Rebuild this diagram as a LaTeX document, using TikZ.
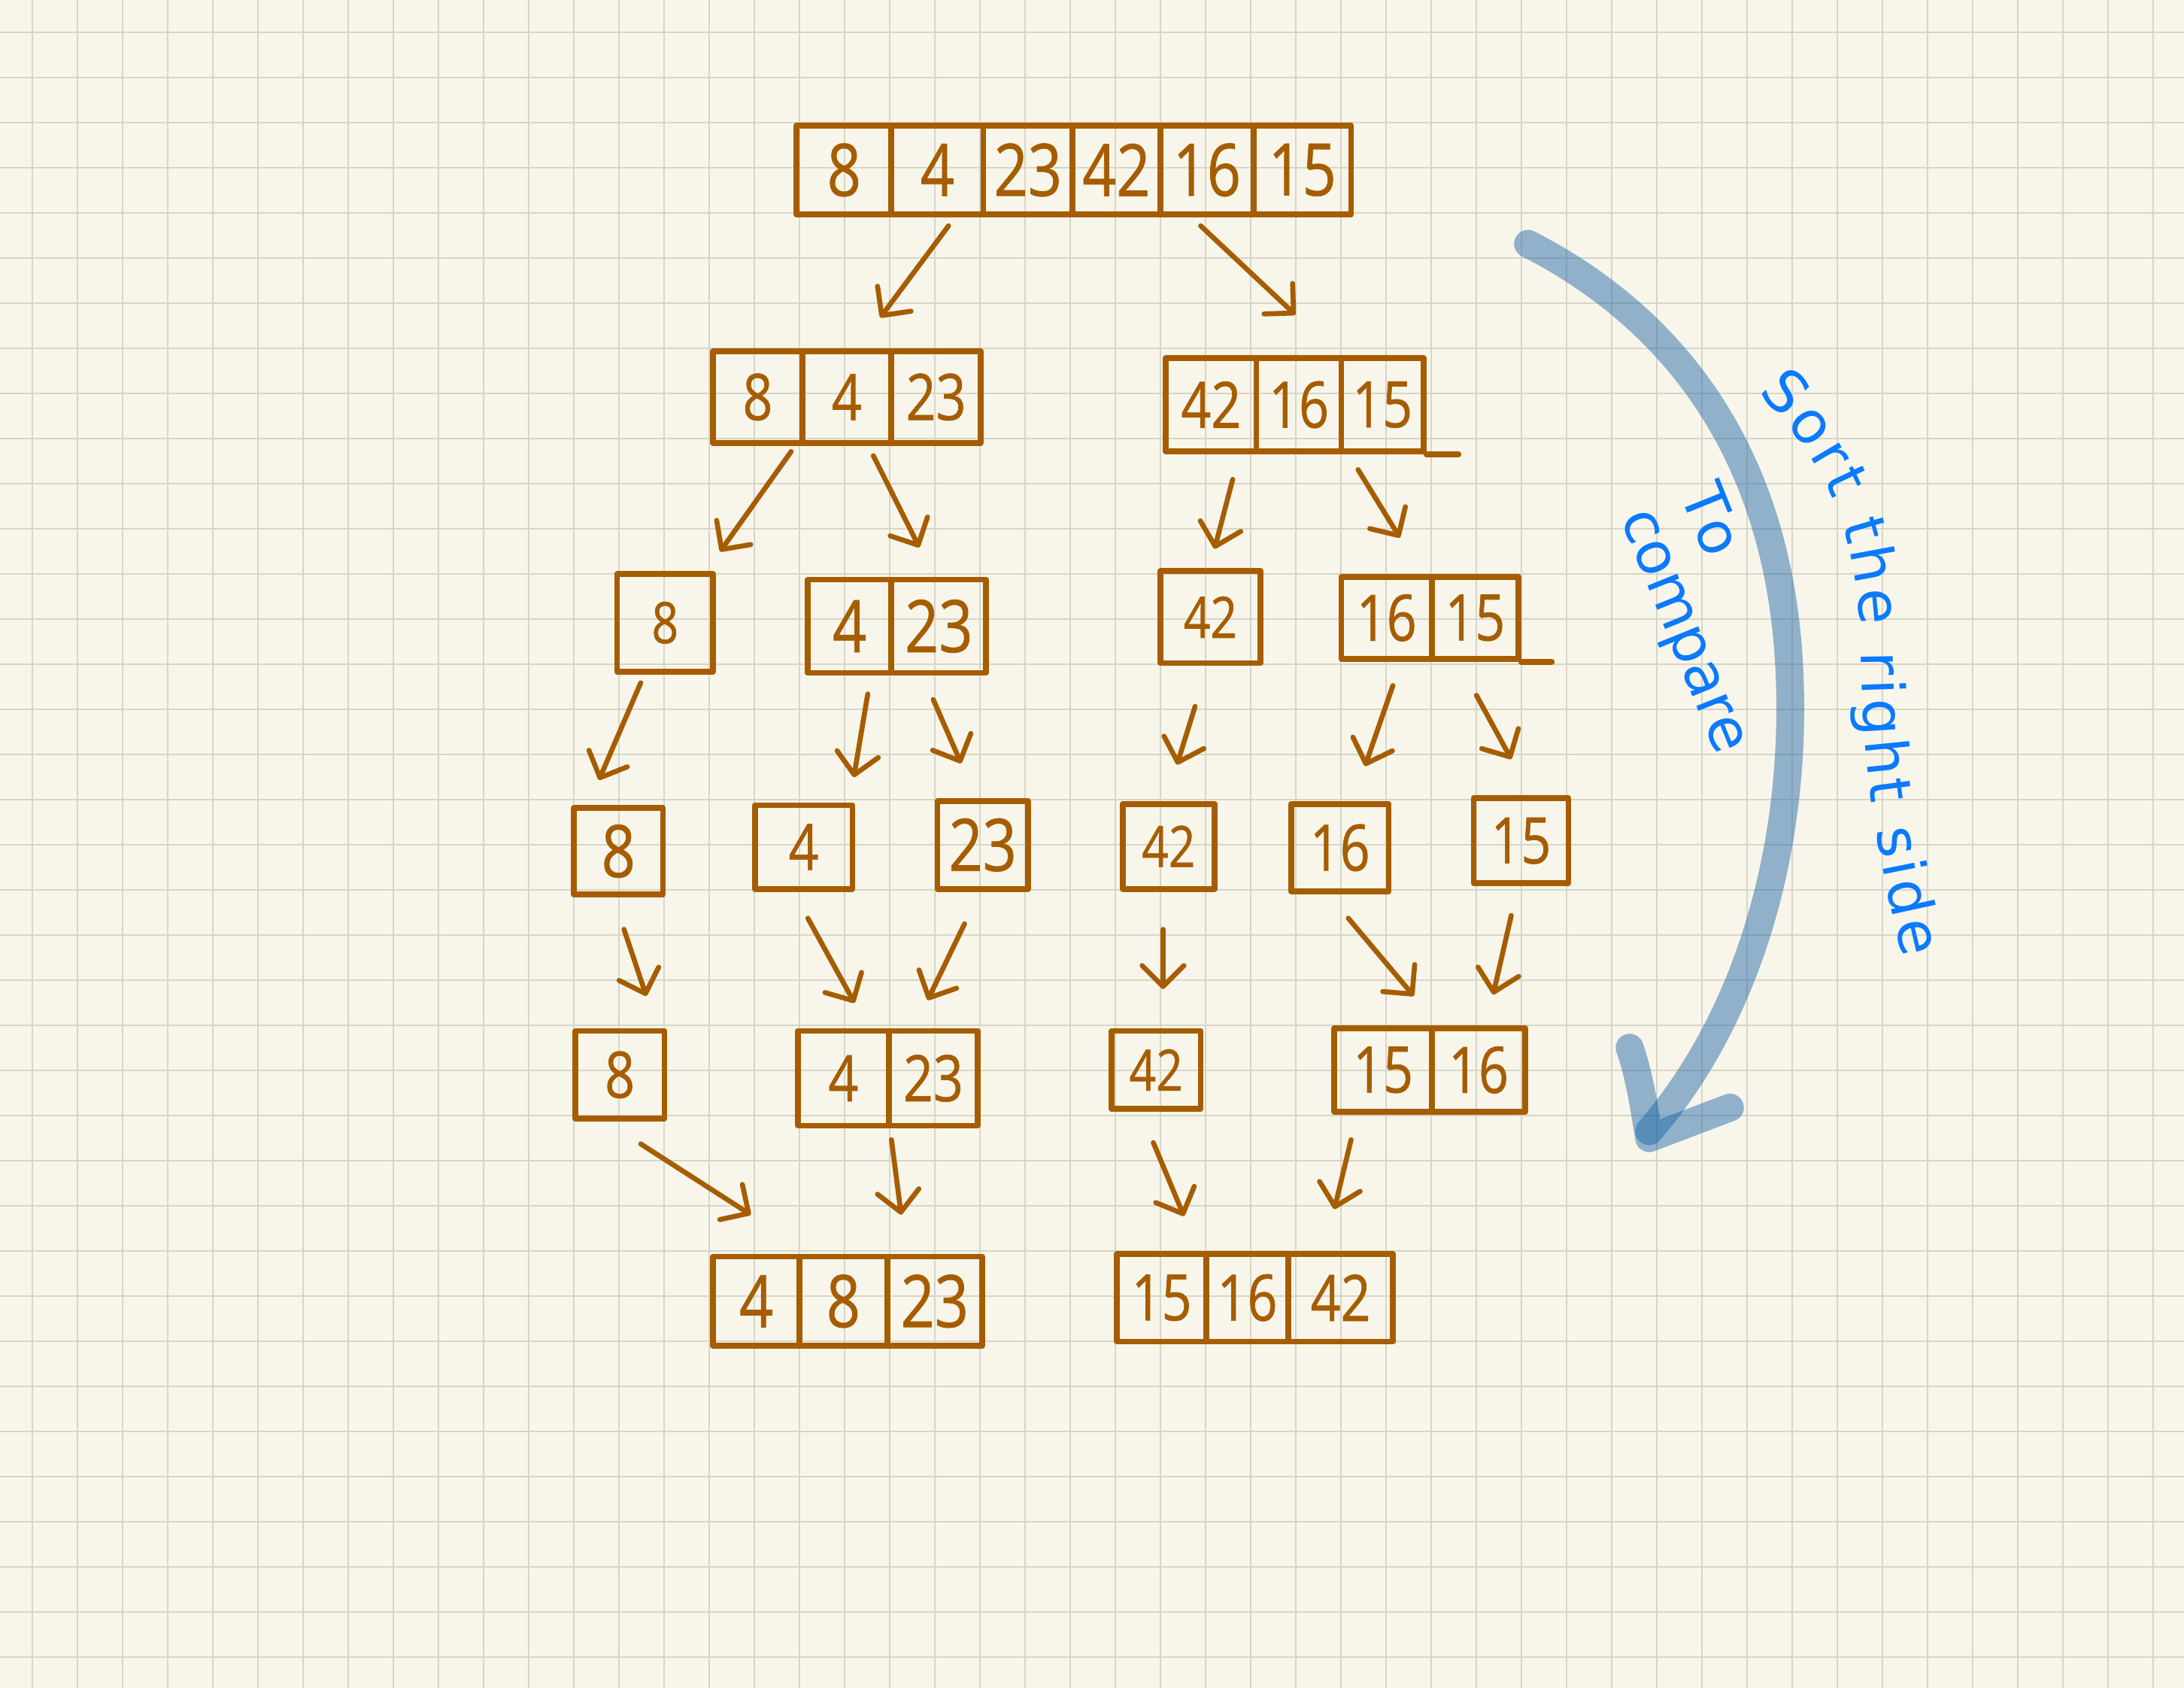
\documentclass[tikz,border=0pt]{standalone}
\usepackage{fontspec}
\usetikzlibrary{arrows.meta,calc,decorations.text}
\newfontfamily\digitfont[FakeStretch=0.82,FakeBold=0.8]{Open Sans}
\newfontfamily\notefont{DejaVu Sans}
\definecolor{paper}{RGB}{248,246,234}
\definecolor{gridc}{RGB}{214,214,200}
\definecolor{ink}{RGB}{166,93,2}
\definecolor{hl}{RGB}{20,95,165}
\definecolor{pen}{RGB}{10,122,255}
\tikzset{
  cell/.style={draw=ink, line width=4.2pt, line join=round, rectangle, inner sep=0pt, text=ink},
  dA/.style={font=\digitfont\fontsize{52}{60}\selectfont},
  dB/.style={font=\digitfont\fontsize{46}{54}\selectfont},
  dC/.style={font=\digitfont\fontsize{41}{48}\selectfont},
  arr/.style={draw=ink, line width=3.6pt, line cap=round, line join=round,
              -{Straight Barb[length=15pt,width=30pt,round]}},
  extend/.style={draw=ink, line width=4.2pt, line cap=round},
  hlstroke/.style={draw=hl, draw opacity=0.45, line width=20pt, line cap=round, line join=round},
  notepath/.style={decorate, decoration={text along path, text color=pen,
      text={|\notefont\fontsize{42}{46}\selectfont|#1}}},
  notefit/.style={decorate, decoration={text along path, text color=pen,
      text={|\notefont\fontsize{42}{46}\selectfont|#1}, text align={fit to path}}},
}
\newcommand\cellbox[7]{\node[cell,#6,minimum width={#3-#2},minimum height={#5-#4}] (#1) at ({(#2+#3)/2},{(#4+#5)/2}) {#7};}
\begin{document}
\begin{tikzpicture}[x=1pt,y=-1pt]
\fill[paper] (0,0) rectangle (1568,1211.6);
\useasboundingbox (0,0) rectangle (1568,1211.6);
\foreach \k in {0,...,47} \draw[gridc, line width=1.1pt] ({23.22+32.397*\k},0) -- ({23.22+32.397*\k},1211.6);
\foreach \k in {0,...,36} \draw[gridc, line width=1.1pt] (0,{23.22+32.397*\k}) -- (1568,{23.22+32.397*\k});

% level 0
\cellbox{a1}{572}{640}{90}{154}{dA}{8}
\cellbox{a2}{640}{706}{90}{154}{dA}{4}
\cellbox{a3}{706}{770}{90}{154}{dA}{23}
\cellbox{a4}{770}{833}{90}{154}{dA}{42}
\cellbox{a5}{833}{900}{90}{154}{dA}{16}
\cellbox{a6}{900}{970}{90}{154}{dA}{15}
% level 1
\cellbox{b1}{512}{576}{252}{318}{dB}{8}
\cellbox{b2}{576}{640}{252}{318}{dB}{4}
\cellbox{b3}{640}{704}{252}{318}{dB}{23}
\cellbox{c1}{837}{902}{257}{324}{dB}{42}
\cellbox{c2}{902}{963}{257}{324}{dB}{16}
\cellbox{c3}{963}{1022}{257}{324}{dB}{15}
\draw[extend] (c3.south east) -- ++(23,0);
% level 2
\cellbox{d1}{443}{512}{412}{482}{dC}{8}
\cellbox{d2}{580}{640}{416}{483}{dA}{4}
\cellbox{d3}{640}{708}{416}{483}{dA}{23}
\cellbox{e1}{833}{905}{410}{476}{dC}{42}
\cellbox{e2}{963}{1028}{414}{473}{dB}{16}
\cellbox{e3}{1028}{1090}{414}{473}{dB}{15}
\draw[extend] (e3.south east) -- ++(22,0);
% level 3
\cellbox{f1}{412}{476}{580}{642}{dA}{8}
\cellbox{f2}{542}{612}{578}{638}{dB}{4}
\cellbox{f3}{673}{738}{575}{638}{dA}{23}
\cellbox{g1}{806}{872}{577}{638}{dC}{42}
\cellbox{g2}{927}{997}{577}{640}{dB}{16}
\cellbox{g3}{1058}{1126}{573}{634}{dB}{15}
% level 4
\cellbox{h1}{413}{477}{740}{803}{dB}{8}
\cellbox{h2}{573}{638}{740}{808}{dB}{4}
\cellbox{h3}{638}{702}{740}{808}{dB}{23}
\cellbox{i1}{798}{862}{740}{796}{dC}{42}
\cellbox{i2}{958}{1028}{738}{798}{dB}{15}
\cellbox{i3}{1028}{1095}{738}{798}{dB}{16}
% level 5
\cellbox{j1}{512}{574}{902}{966}{dA}{4}
\cellbox{j2}{574}{637}{902}{966}{dA}{8}
\cellbox{j3}{637}{705}{902}{966}{dA}{23}
\cellbox{k1}{802}{866}{900}{963}{dB}{15}
\cellbox{k2}{866}{925}{900}{963}{dB}{16}
\cellbox{k3}{925}{1000}{900}{963}{dB}{42}

% arrows
\draw[arr] ($(a2.south)+(8,6)$) -- ($(b2.north)+(24,-22)$);
\draw[arr] ($(a5.south)+(-4.5,6)$) -- ($(c2.north)+(-2.5,-29)$);
\draw[arr] ($(b1.south)+(24,4)$) -- ($(d1.north)+(39.5,-14)$);
\draw[arr] ($(b2.south)+(19,7)$) -- ($(d3.north)+(-14,-21)$);
\draw[arr] ($(c1.south)+(15.5,18)$) -- ($(e1.north)+(3,-14)$);
\draw[arr] ($(c3.south)+(-17.5,11)$) -- ($(e2.north)+(9.5,-26)$);
\draw[arr] ($(d1.south)+(-17.5,6)$) -- ($(f1.north)+(-14,-18)$);
\draw[arr] ($(d2.south)+(13,13)$) -- ($(f2.north)+(36,-18)$);
\draw[arr] ($(d3.south)+(-4,17)$) -- ($(f3.north)+(-15.5,-25)$);
\draw[arr] ($(e1.south)+(-11,29)$) -- ($(g1.north)+(6,-26)$);
\draw[arr] ($(e2.south)+(4.5,17)$) -- ($(g2.north)+(18,-25)$);
\draw[arr] ($(e3.south)+(1,24)$) -- ($(g3.north)+(-7,-26)$);
\draw[arr] ($(f1.south)+(4,23)$) -- ($(h1.north)+(19,-23)$);
\draw[arr] ($(f2.south)+(3,19)$) -- ($(h2.north)+(8,-18)$);
\draw[arr] ($(f3.south)+(-13,23)$) -- ($(h3.north)+(-4,-20)$);
\draw[arr] ($(g1.south)+(-4,27)$) -- ($(i1.north)+(5,-28)$);
\draw[arr] ($(g2.south)+(6,17)$) -- ($(i2.north)+(22,-21)$);
\draw[arr] ($(g3.south)+(-7,21)$) -- ($(i3.north)+(10.5,-22)$);
\draw[arr] ($(h1.south)+(15,16)$) -- ($(j1.north)+(-4,-28)$);
\draw[arr] ($(h3.south)+(-30,8)$) -- ($(j3.north)+(-24,-28)$);
\draw[arr] ($(i1.south)+(-2,22)$) -- ($(k1.north)+(16,-25)$);
\draw[arr] ($(i2.south)+(-23,18)$) -- ($(k3.north)+(-4.5,-30)$);

% blue highlighter arrow
\draw[hlstroke] (1097,175) .. controls (1195,225) and (1280,320) .. (1285,490)
                .. controls (1289,610) and (1255,730) .. (1184,812);
\draw[hlstroke] (1170,752) .. controls (1178,775) and (1181,800) .. (1184,817) -- (1242,795);

% handwritten notes
\path[notefit={Sort the right side}]
  (1262,282) .. controls (1310,330) and (1335,380) .. (1336,470)
  .. controls (1337,560) and (1350,620) .. (1366,688);
\path[notepath={To}] (1206,354.3) -- (1236,428.5);
\path[notepath={compare}] (1163.3,371.6) -- (1240,561.5);
\end{tikzpicture}
\end{document}
